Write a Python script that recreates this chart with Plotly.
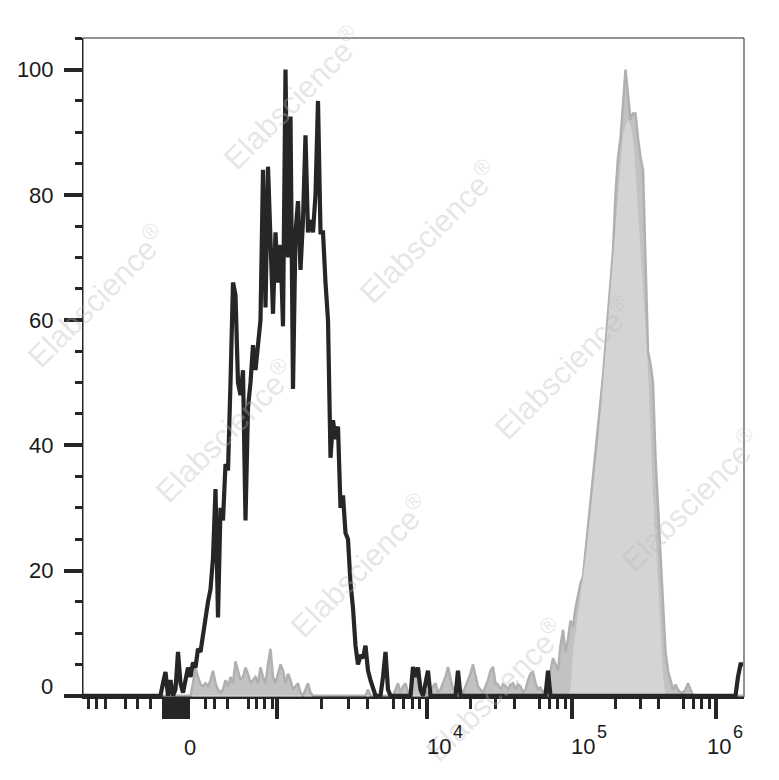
import numpy as np
import plotly.graph_objects as go

# ---------------- data (display channels, 1 channel = one histogram bin) ----------------
channels = list(range(265))

black_counts = ([0] * 32 +
                [2, 3.8, 0, 2.5, 0, 1, 7, 2, 0.5, 3, 4.5, 3, 5.3, 4.5, 7.5, 7, 10, 12.5, 15, 17,
                 22, 33, 12.5, 30, 28, 37, 36, 50, 66, 64, 50, 48, 52, 28, 46, 50, 56, 52, 57, 60,
                 84, 62, 84.5, 70, 61, 74, 66, 72, 59, 100, 70, 92.5, 49, 74, 79, 68, 76, 89.5, 74, 76,
                 74, 80, 95, 74, 74, 66, 60, 38, 44, 41, 43, 30, 32, 26, 25, 18, 14, 8, 5, 6.5,
                 6, 8, 4, 2.5, 1, 0, 0, 0, 3, 7, 1, 0] +
                [0] * 8 +
                [4.6, 3, 4.5, 1, 0, 2, 4] +
                [0] * 11 +
                [4] +
                [0] * 35 +
                [4] +
                [0] * 75 +
                [3, 5, 5])

grey_envelope = ([0] * 44 +
                 [2, 4.5, 3, 1.8, 1.5, 2, 1.5, 2.5, 4, 2, 1, 0.5, 1, 2.5, 1.5, 3, 2, 5.5, 4, 2.5,
                  3, 4.5, 3.5, 2, 2.5, 3, 2, 4.5, 3, 2, 5, 7.5, 3, 2, 3.5, 5, 4, 2, 3.5, 2.5,
                  1, 1.5, 2, 0.5, 0, 1, 2, 0.5] +
                 [0] * 22 +
                 [1] +
                 [0] * 10 +
                 [1, 2, 0.5, 1.5, 2, 0.5, 0, 2, 4.5, 2, 0.5, 0, 1, 0, 0.5, 1.5, 2, 0.5, 1, 2,
                  3, 4.6, 3, 1, 1.5, 2, 1, 0.5, 1.5, 2.5, 3.5, 5, 3, 1.5, 1, 0.5, 1.5, 2.5, 4, 4.6,
                  2, 1.8, 1, 1.8, 1.5, 1, 1.8, 2, 1, 1.8, 1.5, 0.5, 1, 2.5, 3.5, 3.8, 2, 1, 1.3, 0.5,
                  1, 2, 4, 6, 5, 4, 8, 10.5, 7, 9, 12, 11, 14, 16, 18, 19, 23, 27, 30, 34,
                  38, 42, 46, 51, 56, 61, 66, 71, 80, 86, 89, 95, 100, 96, 92, 93, 93, 89, 86, 84,
                  70, 55, 53, 50, 38, 30, 22, 14, 7, 4, 2.5, 1, 1.8, 1, 0.5, 0.5, 1, 2, 1] +
                 [0] * 21)

grey_inner = ([0] * 195 +
              [1, 7, 10, 13, 16, 18.5, 22, 25.5, 29, 32.5, 36.5, 40.5, 45, 50, 55, 60, 65, 70, 76, 81,
               86, 89.5, 91, 92, 91, 89, 84, 77, 71, 65, 59, 52, 42, 32, 26, 18.5, 11, 3] +
              [0] * 32)

# ---------------- axis geometry (biexponential display) ----------------
decade_values = [1e3, 1e4, 1e5, 1e6]
decade_channels = [77.5, 137.5, 195.5, 253.1]
near_zero_long = [32.4, 34.0, 35.6, 37.2, 38.8, 40.4, 42.0]
linear_minor = [2.1, 5.5, 8.8, 16.8, 21.7, 27.1, 48.8, 52.4, 57.6, 66.1, 69.2, 72.4, 75.9]
linear_medium = [12.4, 62.1]

log_minor, log_medium = [], []
for i in range(len(decade_channels) - 1):
    c0, c1 = decade_channels[i], decade_channels[i + 1]
    for m in range(2, 10):
        pos = c0 + np.log10(m) * (c1 - c0)
        (log_medium if m == 5 else log_minor).append(float(pos))

x_long = near_zero_long + decade_channels
x_medium = linear_medium + log_medium
x_minor = linear_minor + log_minor

y_major = [0, 20, 40, 60, 80, 100]
y_minor = [5, 10, 15, 25, 30, 35, 45, 50, 55, 65, 70, 75, 85, 90, 95, 105]

INK = '#262626'
FONT = 'Liberation Sans, Arial, sans-serif'

fig = go.Figure()
fig.add_trace(go.Scatter(x=channels, y=grey_envelope, mode='lines',
                         line=dict(color='#b0b0b0', width=2.5), fill='tozeroy',
                         fillcolor='#c2c2c2', hoverinfo='skip', showlegend=False))
fig.add_trace(go.Scatter(x=channels, y=grey_inner, mode='lines',
                         line=dict(color='#d4d4d4', width=0), fill='tozeroy',
                         fillcolor='#d4d4d4', hoverinfo='skip', showlegend=False))
fig.add_trace(go.Scatter(x=channels, y=black_counts, mode='lines',
                         line=dict(color=INK, width=4.2), hoverinfo='skip', showlegend=False))

XR = [0, 264.4]
fig.update_layout(
    width=771, height=772,
    margin=dict(l=75, r=35, t=30, b=83),
    paper_bgcolor='white', plot_bgcolor='white',
    font=dict(family=FONT, size=22, color='#1a1a1a'),
    xaxis=dict(range=XR, automargin=False, showgrid=False, zeroline=False, showline=True,
               linecolor=INK, linewidth=2, ticks='outside', tickmode='array', tickvals=x_long,
               ticklen=20, tickwidth=4, tickcolor=INK, showticklabels=False,
               minor=dict(ticks='outside', tickmode='array', tickvals=x_minor, ticklen=10,
                          tickwidth=3, tickcolor=INK, showgrid=False)),
    xaxis2=dict(range=XR, automargin=False, overlaying='x', anchor='y', side='bottom',
                showgrid=False, zeroline=False, showline=False, ticks='outside',
                tickmode='array', tickvals=x_medium, ticklen=15, tickwidth=4, tickcolor=INK,
                showticklabels=False),
    yaxis=dict(range=[-0.2, 105.05], automargin=False, showgrid=False, zeroline=False,
               showline=True, linecolor=INK, linewidth=1, ticks='outside', tickmode='array',
               tickvals=y_major, ticktext=['' if v == 0 else str(v) for v in y_major],
               ticklen=18, tickwidth=4, tickcolor=INK, ticklabelstandoff=6,
               tickfont=dict(size=22, family=FONT, color='#1a1a1a'),
               minor=dict(ticks='outside', tickmode='array', tickvals=y_minor, ticklen=7,
                          tickwidth=3, tickcolor=INK, showgrid=False)),
)

fig.add_shape(type='rect', xref='paper', yref='paper', x0=0, y0=0, x1=1, y1=1,
              line=dict(color=INK, width=1), layer='above')

# ---------------- watermark (page pixel centres) ----------------
PL, PT, PW, PH = 83, 38, 661, 659
wm_centres = [(292, 98), (428, 232), (563, 368), (690, 500),
              (96, 296), (224, 431), (359, 566), (494, 690)]
for (px, py) in wm_centres:
    fig.add_annotation(text='Elabscience<sup>®</sup>', xref='paper', yref='paper',
                       x=(px - PL) / PW, y=(PT + PH - py) / PH, xanchor='center',
                       yanchor='middle', textangle=-45, showarrow=False,
                       font=dict(family=FONT, size=31, color='rgba(185,185,185,0.35)'))

# ---------------- x tick labels ----------------
fig.add_annotation(text='0', x=42.7, xref='x', y=0, yref='paper', xanchor='center',
                   yanchor='middle', yshift=-50, showarrow=False, borderpad=0,
                   font=dict(family=FONT, size=22, color='#1a1a1a'))
decade_labels = [('4', 137.2, 147.4), ('5', 194.6, 205.2), ('6', 249.1, 259.6)]
for exp, xb, xe in decade_labels:
    fig.add_annotation(text='10', x=xb, xref='x', y=0, yref='paper', xanchor='left',
                       yanchor='middle', yshift=-49.5, showarrow=False, borderpad=0,
                       font=dict(family=FONT, size=22, color='#1a1a1a'))
    fig.add_annotation(text=exp, x=xe, xref='x', y=0, yref='paper', xanchor='left',
                       yanchor='middle', yshift=-34.5, showarrow=False, borderpad=0,
                       font=dict(family=FONT, size=18, color='#1a1a1a'))

# y label "0" sits slightly above its tick
fig.add_annotation(text='0', x=0, xref='paper', y=1.5, yref='y', xanchor='right',
                   yanchor='middle', xshift=-29, showarrow=False, borderpad=0,
                   font=dict(family=FONT, size=22, color='#1a1a1a'))

fig.write_html('out.html')
